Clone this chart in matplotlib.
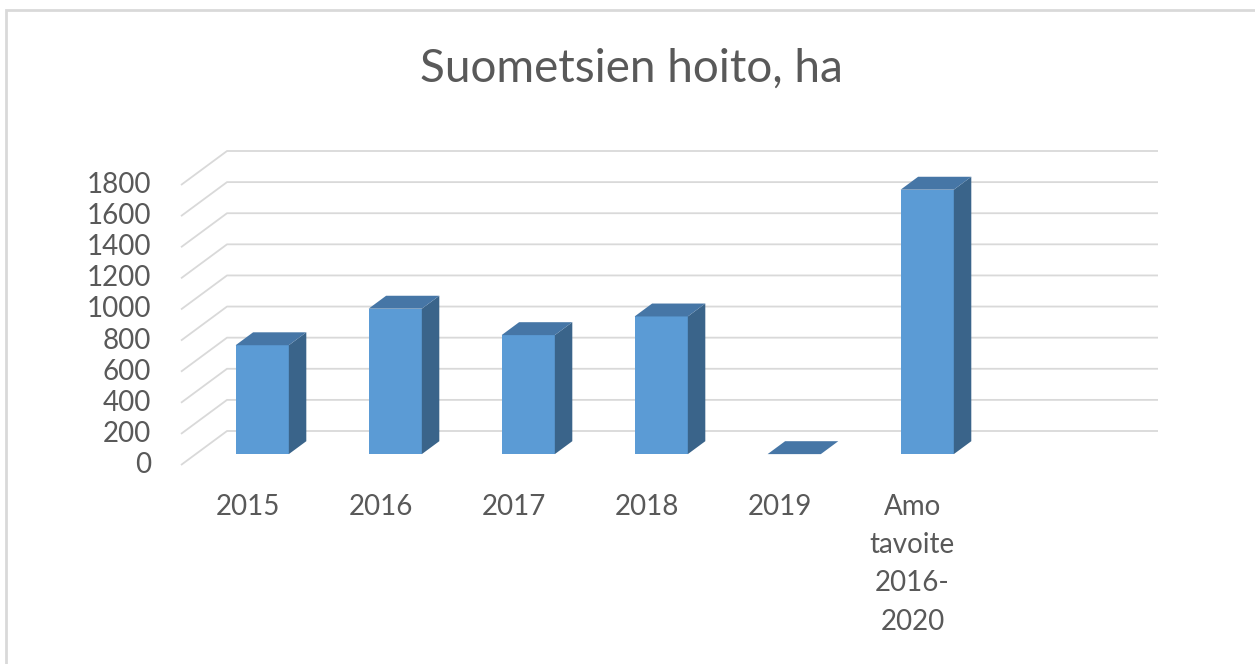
import matplotlib
matplotlib.use("Agg")
import matplotlib.pyplot as plt
from matplotlib.patches import Polygon, Rectangle
import matplotlib.transforms as mtransforms

# ---- data ----
categories = ["2015", "2016", "2017", "2018", "2019", "Amo\ntavoite\n2016-\n2020"]
values = [700, 935, 765, 885, 0, 1700]
yticks = [0, 200, 400, 600, 800, 1000, 1200, 1400, 1600, 1800]
title = "Suometsien hoito, ha"

# ---- style ----
plt.rcParams['font.family'] = ['Lato', 'DejaVu Sans']
TEXT = '#595959'
GRID = '#d9d9d9'
FRONT = '#5B9BD5'
TOP = '#4676A6'
SIDE = '#3A648A'

W, H = 1255, 664
fig = plt.figure(figsize=(W / 100, H / 100), dpi=100)

# pseudo-3D depth offsets (full depth) in data units
DX = 0.346      # categories
DY = 218.6      # value units
f0, f1 = 0.32, 0.70   # bar front / back depth fractions
bw = 0.4
ncat_slots = 7

x0, x1 = 181, 1158
y0, y1 = 465, 151
ax = fig.add_axes([x0 / W, (H - y0) / H, (x1 - x0) / W, (y0 - y1) / H])
ax.set_xlim(-0.5, ncat_slots - 0.5 + DX)
ax.set_ylim(0, yticks[-1] + DY)
ax.axis('off')

# gridlines (side wall diagonal + back wall horizontal)
xl = -0.5
xr = ncat_slots - 0.5 + DX
for v in yticks:
    ax.plot([xl, xl + DX, xr], [v, v + DY, v + DY], color=GRID, lw=1.3,
            zorder=1, solid_capstyle='butt', clip_on=False)
    ax.text(xl, v, str(v), ha='right', va='center', color=TEXT, fontsize=20,
            transform=mtransforms.offset_copy(ax.transData, fig=fig, x=-30, y=0, units='dots'))

# bars
for i, v in enumerate(values):
    xc = i
    ax.bar(xc + f0 * DX, v, width=bw, bottom=f0 * DY, color=FRONT, zorder=3,
           linewidth=0)
    # side face
    xs = xc + bw / 2
    side = [(xs + f0 * DX, f0 * DY), (xs + f1 * DX, f1 * DY),
            (xs + f1 * DX, v + f1 * DY), (xs + f0 * DX, v + f0 * DY)]
    ax.add_patch(Polygon(side, closed=True, facecolor=SIDE, edgecolor='none', zorder=3))
    # top face
    xa = xc - bw / 2
    top = [(xa + f0 * DX, v + f0 * DY), (xs + f0 * DX, v + f0 * DY),
           (xs + f1 * DX, v + f1 * DY), (xa + f1 * DX, v + f1 * DY)]
    ax.add_patch(Polygon(top, closed=True, facecolor=TOP, edgecolor='none', zorder=3))

# category labels
for i, c in enumerate(categories):
    ax.text(i, 0, c, ha='center', va='top', color=TEXT, fontsize=20,
            linespacing=1.58,
            transform=mtransforms.offset_copy(ax.transData, fig=fig, x=0, y=-29, units='dots'))

# title
fig.text(631 / W, 1 - 69 / H, title, ha='center', va='center', color=TEXT, fontsize=33)

# chart border (top and left visible)
fig.add_artist(Rectangle((6 / W, -0.1), 1.2, 1 - 10 / H + 0.1, transform=fig.transFigure,
                         fill=False, edgecolor=GRID, lw=2))

fig.savefig("out.png", dpi=100, facecolor='white')
